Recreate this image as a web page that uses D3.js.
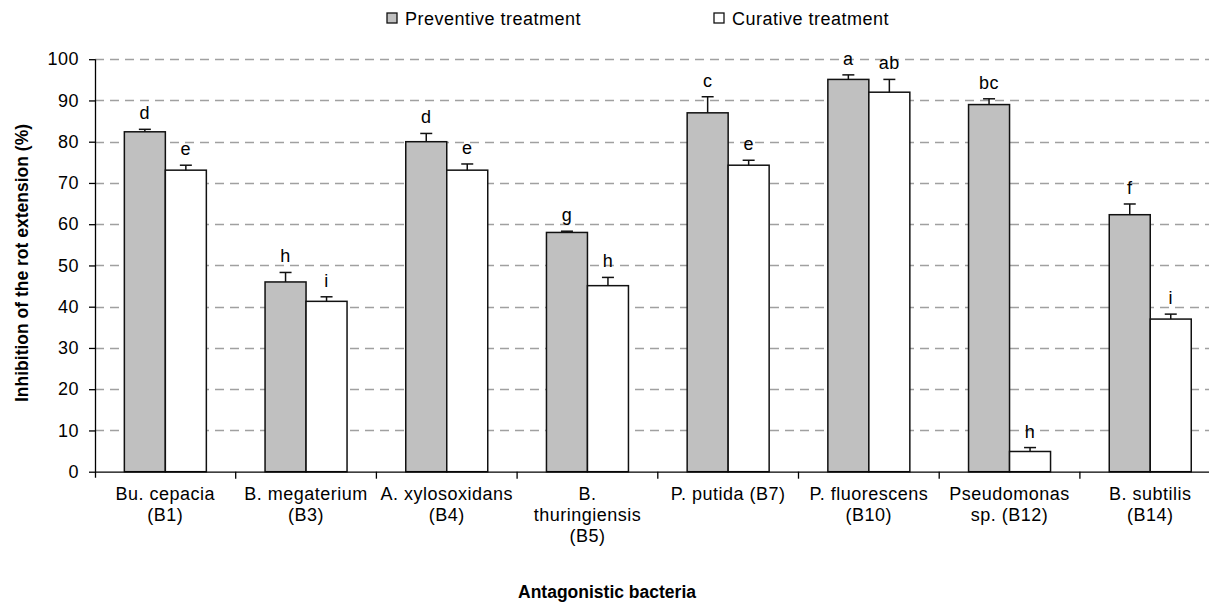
<!DOCTYPE html>
<html>
<head>
<meta charset="utf-8">
<script src="https://cdn.jsdelivr.net/npm/d3@7"></script>
<style>
  html, body { margin: 0; padding: 0; background: #fff; }
  svg { display: block; font-family: "Liberation Sans", Arial, sans-serif; }
</style>
</head>
<body>
<svg id="chart" width="1209" height="605"></svg>
<script>
// Bacterial strains (label lines per category)
const categories = [
  ["Bu. cepacia", "(B1)"],
  ["B. megaterium", "(B3)"],
  ["A. xylosoxidans", "(B4)"],
  ["B.", "thuringiensis", "(B5)"],
  ["P. putida (B7)"],
  ["P. fluorescens", "(B10)"],
  ["Pseudomonas", "sp. (B12)"],
  ["B. subtilis", "(B14)"]
];
const seriesNames = ["Preventive treatment", "Curative treatment"];

// Mean inhibition (%) and standard error
const preventive = [82.4, 46.0, 80.0, 58.0, 87.0, 95.1, 89.0, 62.3];
const preventiveErr = [0.6, 2.3, 2.0, 0.3, 3.9, 1.1, 1.4, 2.6];
const curative = [73.1, 41.3, 73.1, 45.1, 74.3, 92.0, 4.9, 37.0];
const curativeErr = [1.2, 1.1, 1.5, 2.0, 1.2, 3.1, 0.95, 1.2];

// Significance letters
const preventiveLetters = ["d", "h", "d", "g", "c", "a", "bc", "f"];
const curativeLetters = ["e", "i", "e", "h", "e", "ab", "h", "i"];

const yTicks = [0, 10, 20, 30, 40, 50, 60, 70, 80, 90, 100];

const fills = ["#c0c0c0", "#ffffff"];

const svg = d3.select("#chart");
const plotLeft = 95, plotBottom = 471.7, plotTop = 59.2;
const step = 140.7;
const fontSize = 18, letterSp = "0.5px";
const catKeys = categories.map(c => c.join(" "));

const x = d3.scaleBand().domain(catKeys).range([plotLeft, plotLeft + step * categories.length]).padding(0);
const xs = d3.scaleBand().domain(seriesNames).range([0, x.bandwidth()]).paddingInner(0).paddingOuter(0.716);
const y = d3.scaleLinear().domain([0, 100]).range([plotBottom, plotTop]);

// dashed horizontal gridlines
svg.append("g")
  .selectAll("line")
  .data(yTicks.filter(t => t > 0))
  .join("line")
  .attr("x1", plotLeft).attr("x2", 1209)
  .attr("y1", d => Math.round(y(d)) + 0.5).attr("y2", d => Math.round(y(d)) + 0.5)
  .attr("stroke", "#a0a0a0").attr("stroke-width", 1.3)
  .attr("stroke-dasharray", "9,6");

const data = catKeys.map((k, i) => ({
  key: k,
  vals: [
    { s: seriesNames[0], v: preventive[i], e: preventiveErr[i], l: preventiveLetters[i], f: fills[0] },
    { s: seriesNames[1], v: curative[i], e: curativeErr[i], l: curativeLetters[i], f: fills[1] }
  ]
}));

const groups = svg.append("g").selectAll("g")
  .data(data).join("g")
  .attr("transform", d => `translate(${x(d.key)},0)`);

const marks = groups.selectAll("g").data(d => d.vals).join("g");

// bars
marks.append("rect")
  .attr("x", d => xs(d.s))
  .attr("y", d => y(d.v))
  .attr("width", xs.bandwidth())
  .attr("height", d => y(0) - y(d.v))
  .attr("fill", d => d.f)
  .attr("stroke", "#111").attr("stroke-width", 1.5);

// upper error bars
marks.append("line")
  .attr("x1", d => xs(d.s) + xs.bandwidth() / 2)
  .attr("x2", d => xs(d.s) + xs.bandwidth() / 2)
  .attr("y1", d => y(d.v)).attr("y2", d => y(d.v + d.e))
  .attr("stroke", "#111").attr("stroke-width", 1.5);
marks.append("line")
  .attr("x1", d => xs(d.s) + xs.bandwidth() / 2 - 6)
  .attr("x2", d => xs(d.s) + xs.bandwidth() / 2 + 6)
  .attr("y1", d => y(d.v + d.e)).attr("y2", d => y(d.v + d.e))
  .attr("stroke", "#111").attr("stroke-width", 1.5);

// significance letters
marks.append("text")
  .attr("x", d => xs(d.s) + xs.bandwidth() / 2)
  .attr("y", d => y(d.v + d.e) - 10)
  .attr("text-anchor", "middle")
  .attr("font-size", fontSize)
  .attr("letter-spacing", letterSp)
  .attr("fill", "#000")
  .text(d => d.l);

// y axis
const yAxis = svg.append("g")
  .attr("transform", `translate(${plotLeft},0)`)
  .call(d3.axisLeft(y).tickValues(yTicks).tickSize(6).tickSizeOuter(0).tickPadding(10));
yAxis.select(".domain").attr("stroke", "#000").attr("stroke-width", 1.3)
  .attr("d", `M0.5,${plotTop}V${plotBottom + 6}`);
yAxis.selectAll(".tick line").attr("stroke", "#000").attr("stroke-width", 1.3);
yAxis.selectAll(".tick text").attr("font-size", fontSize).attr("letter-spacing", letterSp)
  .attr("font-family", "Liberation Sans, Arial, sans-serif").attr("fill", "#000");

// x axis with ticks at category boundaries
const xAxisG = svg.append("g").attr("transform", `translate(0,${plotBottom})`);
xAxisG.append("line")
  .attr("x1", plotLeft).attr("x2", 1209).attr("y1", 0.5).attr("y2", 0.5)
  .attr("stroke", "#000").attr("stroke-width", 1.3);
xAxisG.selectAll("line.tk")
  .data(catKeys.slice(1).concat(["end"]))
  .join("line").attr("class", "tk")
  .attr("x1", d => d === "end" ? x.range()[1] : x(d))
  .attr("x2", d => d === "end" ? x.range()[1] : x(d))
  .attr("y1", 0).attr("y2", 7)
  .attr("stroke", "#000").attr("stroke-width", 1.3);

// category labels
const lab = svg.append("g").selectAll("text")
  .data(categories).join("text")
  .attr("x", (d, i) => x(catKeys[i]) + x.bandwidth() / 2)
  .attr("y", 500)
  .attr("text-anchor", "middle")
  .attr("font-size", fontSize)
  .attr("letter-spacing", letterSp)
  .attr("fill", "#000");
lab.selectAll("tspan").data(d => d).join("tspan")
  .attr("x", function () { return this.parentNode.getAttribute("x"); })
  .attr("dy", (d, i) => i === 0 ? 0 : 21)
  .text(d => d);

// axis titles
svg.append("text")
  .attr("x", 607).attr("y", 598)
  .attr("text-anchor", "middle")
  .attr("font-size", 17.5).attr("font-weight", "bold")
  .text("Antagonistic bacteria");
svg.append("text")
  .attr("transform", "translate(28,263) rotate(-90)")
  .attr("text-anchor", "middle")
  .attr("font-size", 17.5).attr("font-weight", "bold")
  .text("Inhibition of the rot extension (%)");

// legend
const legendX = [387, 714];
const lg = svg.append("g").selectAll("g")
  .data(seriesNames).join("g")
  .attr("transform", (d, i) => `translate(${legendX[i]},13)`);
lg.append("rect")
  .attr("width", 10).attr("height", 10)
  .attr("fill", (d, i) => fills[i])
  .attr("stroke", "#111").attr("stroke-width", 1.3);
lg.append("text")
  .attr("x", 18).attr("y", 11.5)
  .attr("font-size", fontSize)
  .attr("letter-spacing", letterSp)
  .text(d => d);
</script>
</body>
</html>
